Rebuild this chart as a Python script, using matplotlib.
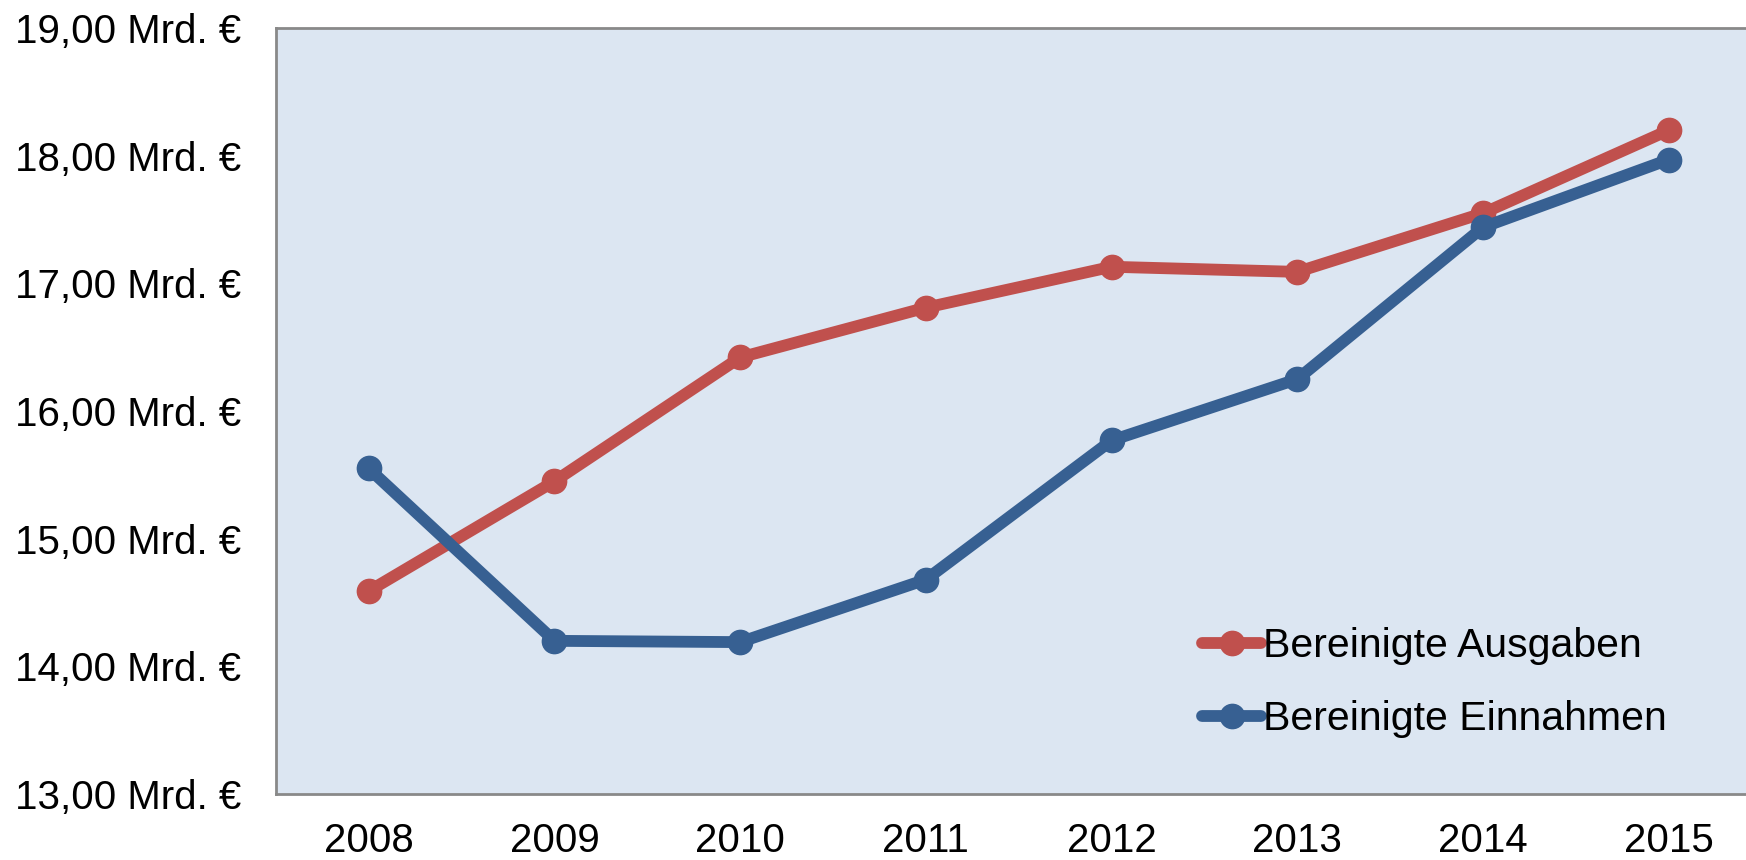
import matplotlib
matplotlib.use("Agg")
import matplotlib.pyplot as plt

# Daten
jahre = ["2008", "2009", "2010", "2011", "2012", "2013", "2014", "2015"]
ausgaben = [14.59, 15.45, 16.42, 16.81, 17.13, 17.09, 17.55, 18.20]
einnahmen = [15.55, 14.20, 14.19, 14.68, 15.77, 16.25, 17.44, 17.97]
y_ticks = [13, 14, 15, 16, 17, 18, 19]

plt.rcParams['font.family'] = ['Liberation Sans', 'DejaVu Sans']

fig = plt.figure(figsize=(17.46, 8.6), dpi=100)
ax = fig.add_axes([0.158, 0.0767, 0.851, 0.8907])
ax.set_facecolor("#DCE6F2")

x = range(len(jahre))
ax.plot(x, ausgaben, color="#C0504D", lw=8.5, marker="o", ms=17.5,
        solid_capstyle="round", label="Bereinigte Ausgaben")
ax.plot(x, einnahmen, color="#376092", lw=8.5, marker="o", ms=17.5,
        solid_capstyle="round", label="Bereinigte Einnahmen")

ax.set_xlim(-0.5, len(jahre) - 0.5)
ax.set_ylim(13, 19)
ax.set_xticks(list(x))
ax.set_xticklabels(jahre)
ax.set_yticks(y_ticks)
ax.set_yticklabels([f"{v:.2f}".replace(".", ",") + " Mrd. €" for v in y_ticks])
ax.tick_params(axis="both", length=0, labelsize=29)
ax.tick_params(axis="y", pad=25)
ax.tick_params(axis="x", pad=20)

for s in ["left", "top", "bottom"]:
    ax.spines[s].set_color("#898989")
    ax.spines[s].set_linewidth(2)
ax.spines["right"].set_visible(False)

fig.legend(loc="center left", bbox_to_anchor=(0.6884, 0.2064), frameon=False,
           fontsize=29.5, handlelength=1.45, handletextpad=0.05, borderpad=0,
           borderaxespad=0, labelspacing=0.85)

fig.savefig("out.png", dpi=100)
